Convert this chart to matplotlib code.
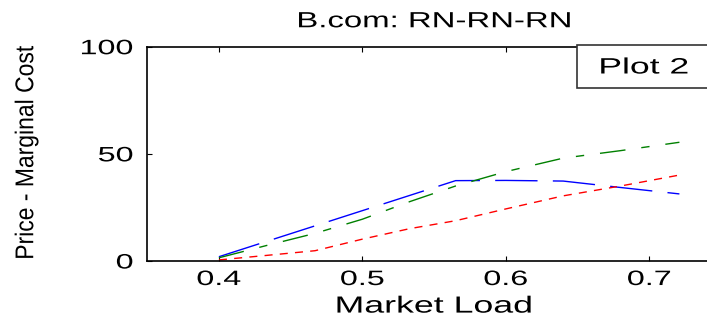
import matplotlib
matplotlib.use("Agg")
import matplotlib.pyplot as plt
from matplotlib.patches import Rectangle
from matplotlib.patheffects import AbstractPathEffect
from matplotlib.transforms import Affine2D

# Market load grid and the three price-minus-marginal-cost curves
market_load = [0.400, 0.433, 0.467, 0.500, 0.533, 0.565, 0.600, 0.640, 0.680, 0.721]
blue_series = [2.0, 9.1, 16.4, 23.5, 30.6, 37.5, 37.6, 37.3, 34.3, 31.3]
green_series = [1.5, 7.2, 12.9, 19.5, 27.7, 35.0, 41.7, 48.0, 51.5, 55.4]
red_series = [0.5, 2.6, 4.8, 10.2, 15.1, 18.8, 24.3, 30.4, 35.0, 40.1]

x_ticks = [0.4, 0.5, 0.6, 0.7]
y_ticks = [0, 50, 100]


class HStretch(AbstractPathEffect):
    """Widen rendered text horizontally about a chosen anchor."""

    def __init__(self, sx, anchor="center"):
        super().__init__()
        self.sx = sx
        self.anchor = anchor

    def draw_path(self, renderer, gc, tpath, affine, rgbFace=None):
        ext = tpath.transformed(affine).get_extents()
        if self.anchor == "right":
            cx = ext.x1
        elif self.anchor == "left":
            cx = ext.x0
        else:
            cx = 0.5 * (ext.x0 + ext.x1)
        t = affine + Affine2D().translate(-cx, 0).scale(self.sx, 1.0).translate(cx, 0)
        renderer.draw_path(gc, tpath, t, rgbFace)


plt.rcParams['font.family'] = ['Liberation Sans', 'DejaVu Sans']

W, H = 707, 322
fig = plt.figure(figsize=(W / 100, H / 100), dpi=100)

left, right = 147.2, 721.0
top, bottom = 46.7, 261.0
ax = fig.add_axes([left / W, (H - bottom) / H, (right - left) / W, (bottom - top) / H])

ax.plot(market_load, blue_series, color='#0000ff', lw=1.0, dashes=(30.5, 11))
ax.plot(market_load, green_series, color='#008000', lw=1.0, dashes=(18.5, 11.5, 6, 11.5))
ax.plot(market_load, red_series, color='#ff0000', lw=1.0, dashes=(5.8, 5.2))

ax.set_xlim(0.35, 0.75)
ax.set_ylim(0, 100)
ax.set_xticks(x_ticks)
ax.set_xticklabels([f"{t:.1f}" for t in x_ticks])
ax.set_yticks(y_ticks)
ax.set_yticklabels([str(t) for t in y_ticks])
ax.tick_params(direction='in', length=3.5, width=0.8, top=True, right=True,
               labelsize=15)
ax.tick_params(axis='x', pad=6.5)
ax.tick_params(axis='y', pad=10)
for s in ax.spines.values():
    s.set_linewidth(1.2)

for lab in ax.get_xticklabels():
    lab.set_path_effects([HStretch(1.55, "center")])
for lab in ax.get_yticklabels():
    lab.set_path_effects([HStretch(1.55, "right")])

title = ax.set_title("B.com: RN-RN-RN", fontsize=15.8, pad=14)
title.set_path_effects([HStretch(1.5, "center")])
xl = ax.set_xlabel("Market Load", fontsize=16.8, labelpad=4)
xl.set_path_effects([HStretch(1.53, "center")])
yl = fig.text(26 / W, 1 - 153 / H, "Price - Marginal Cost", rotation=90,
              ha='center', va='center', fontsize=16.5)
yl.set_path_effects([HStretch(1.12, "center")])

# Text box in the upper-right corner
box = Rectangle((576.7 / W, 1 - 88.3 / H), (730 - 576.7) / W, (88.3 - 45) / H,
                transform=fig.transFigure, facecolor='white', edgecolor='#333333',
                lw=1.2, clip_on=False, zorder=5)
fig.add_artist(box)
plot_lbl = fig.text(644 / W, 1 - 68 / H, "Plot 2", ha='center', va='center',
                    fontsize=16, zorder=6)
plot_lbl.set_path_effects([HStretch(1.6, "center")])

fig.savefig("out.png", dpi=100)
